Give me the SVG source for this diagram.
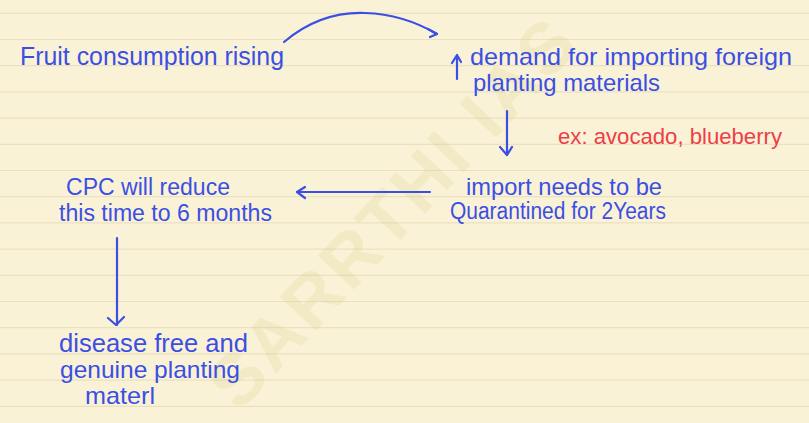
<svg xmlns="http://www.w3.org/2000/svg" width="809" height="423" viewBox="0 0 809 423">
<style>
.bg{fill:#faf2d6}
.rule{stroke:#ebe1c1;stroke-width:1.2}
.wm{font-family:"Liberation Sans",Arial,sans-serif;font-weight:bold;font-size:72px;fill:#b5a43c;opacity:0.1}
.t{font-family:"Liberation Sans",Arial,sans-serif;fill:#3b4fe4}
.r{font-family:"Liberation Sans",Arial,sans-serif;fill:#ec3f47}
.ink{fill:none;stroke:#3b4fe4;stroke-width:2.2;stroke-linecap:round;stroke-linejoin:round}
</style>
<rect class="bg" x="0" y="0" width="809" height="423"/>
<g id="ruling">
<line class="rule" x1="0" y1="13.3" x2="809" y2="13.3"/>
<line class="rule" x1="0" y1="39.5" x2="809" y2="39.5"/>
<line class="rule" x1="0" y1="65.7" x2="809" y2="65.7"/>
<line class="rule" x1="0" y1="91.9" x2="809" y2="91.9"/>
<line class="rule" x1="0" y1="118.1" x2="809" y2="118.1"/>
<line class="rule" x1="0" y1="144.3" x2="809" y2="144.3"/>
<line class="rule" x1="0" y1="170.5" x2="809" y2="170.5"/>
<line class="rule" x1="0" y1="196.7" x2="809" y2="196.7"/>
<line class="rule" x1="0" y1="222.9" x2="809" y2="222.9"/>
<line class="rule" x1="0" y1="249.1" x2="809" y2="249.1"/>
<line class="rule" x1="0" y1="275.3" x2="809" y2="275.3"/>
<line class="rule" x1="0" y1="301.5" x2="809" y2="301.5"/>
<line class="rule" x1="0" y1="327.7" x2="809" y2="327.7"/>
<line class="rule" x1="0" y1="353.9" x2="809" y2="353.9"/>
<line class="rule" x1="0" y1="380.1" x2="809" y2="380.1"/>
<line class="rule" x1="0" y1="406.3" x2="809" y2="406.3"/>
</g>
<text class="wm" x="392" y="237" text-anchor="middle" transform="rotate(-47 392 211)" letter-spacing="4">SARRTHI IAS</text>
<g id="connectors">
<path class="ink" d="M284,42 C310,20 338,12 365,13 C395,14 420,24 437,34"/>
<path class="ink" d="M428,29 L437,34 L430,37"/>
<path class="ink" d="M507,111 L507,155"/>
<path class="ink" d="M500,147 L507,155 L512,147"/>
<path class="ink" d="M430,192 L297,192"/>
<path class="ink" d="M305,187 L297,192 L305,198"/>
<path class="ink" d="M117,238 L117,325"/>
<path class="ink" d="M108,318 L116,325 L124,317"/>
</g>
<g id="node-fruit">
<text class="t" x="20" y="65" font-size="25" textLength="264" lengthAdjust="spacingAndGlyphs">Fruit consumption rising</text>
</g>
<g id="node-demand">
<path class="ink" d="M457,79 L457,56 M452,63 L457,55 L461,62"/>
<text class="t" x="470" y="65" font-size="24" textLength="322" lengthAdjust="spacingAndGlyphs">demand for importing foreign</text>
<text class="t" x="473" y="91" font-size="24" textLength="187" lengthAdjust="spacingAndGlyphs">planting materials</text>
</g>
<g id="node-example">
<text class="r" x="558" y="144" font-size="22" textLength="224" lengthAdjust="spacingAndGlyphs">ex: avocado, blueberry</text>
</g>
<g id="node-quarantine">
<text class="t" x="466" y="195" font-size="24" textLength="196" lengthAdjust="spacingAndGlyphs">import needs to be</text>
<text class="t" x="450" y="219" font-size="23" textLength="216" lengthAdjust="spacingAndGlyphs">Quarantined for 2Years</text>
</g>
<g id="node-cpc">
<text class="t" x="66" y="195" font-size="23" textLength="164" lengthAdjust="spacingAndGlyphs">CPC will reduce</text>
<text class="t" x="59" y="221" font-size="23" textLength="213" lengthAdjust="spacingAndGlyphs">this time to 6 months</text>
</g>
<g id="node-disease">
<text class="t" x="59" y="352" font-size="25" textLength="189" lengthAdjust="spacingAndGlyphs">disease free and</text>
<text class="t" x="60" y="378" font-size="24" textLength="180" lengthAdjust="spacingAndGlyphs">genuine planting</text>
<text class="t" x="85" y="404" font-size="24" textLength="70" lengthAdjust="spacingAndGlyphs">materl</text>
</g>
</svg>
